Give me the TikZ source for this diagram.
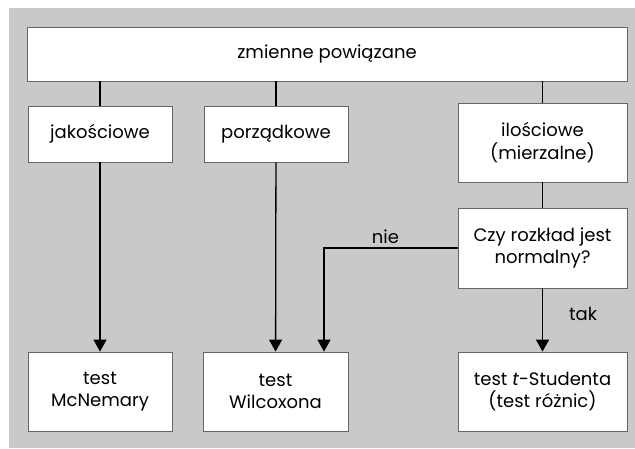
\documentclass[tikz,border=0pt]{standalone}
\usepackage{fontspec}
\setmainfont{Poppins}
\usetikzlibrary{arrows.meta, positioning, calc}

\begin{document}
\begin{tikzpicture}[
    x=1pt, y=-1pt,
    >={Triangle[width=13pt, length=12pt]}, % filled arrow heads
    box/.style={draw=black!60, fill=white, line width=0.8pt, align=center,
        inner sep=2pt, font=\fontsize{18}{22.5}\selectfont},
    link/.style={line width=1.3pt},
    lbl/.style={font=\fontsize{18}{22.5}\selectfont, inner sep=2pt}
]

% Background
\useasboundingbox (0,0) rectangle (635,448);
\fill[black!21] (9,8) rectangle (635,448);

% Top box
\node[box, minimum width=600pt, minimum height=54pt] (vars) at (327,54) {zmienne powiązane};

% Variable types
\node[box, minimum width=144pt, minimum height=56pt] (qual) at (100,134) {jakościowe};
\node[box, minimum width=144pt, minimum height=56pt] (ord) at (276,134) {porządkowe};
\node[box, minimum width=169pt, minimum height=79pt] (quant) at (542.5,142.5) {ilościowe\\(mierzalne)};

% Question
\node[box, minimum width=169pt, minimum height=80pt] (normal) at (542.5,248) {Czy rozkład jest\\normalny?};

% Tests
\node[box, minimum width=144pt, minimum height=79pt] (mcn) at (100,391.5) {test\\McNemary};
\node[box, minimum width=145pt, minimum height=79pt] (wilc) at (275.5,391.5) {test\\Wilcoxona};
\node[box, minimum width=169pt, minimum height=79pt] (stud) at (542.5,391.5) {test \textit{t}-Studenta\\(test różnic)};

% Connectors
\draw[link] (vars.south -| qual.north) -- (qual.north);
\draw[link] (vars.south -| ord.north) -- (ord.north);
\draw[link] (vars.south -| quant.north) -- (quant.north);
\draw[link] (quant) -- (normal);
\draw[link, ->] (qual) -- (mcn);
\draw[link, ->] (ord) -- (wilc);
\draw[link, ->] (normal) -- node[lbl, pos=0.4, right=24pt] {tak} (stud);

% Branch "nie"
\coordinate (nieend) at ($(wilc.north)+(48.5,0)$);
\draw[link, ->] (normal.west) -| node[lbl, pos=0.27, above=2pt] {nie} (nieend);

\end{tikzpicture}
\end{document}
